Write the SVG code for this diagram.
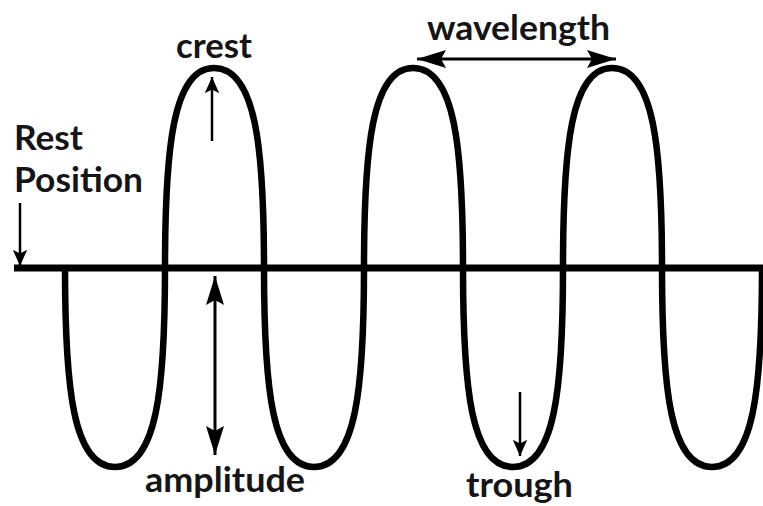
<svg xmlns="http://www.w3.org/2000/svg" width="763" height="506" viewBox="0 0 763 506">
<style>
.wave{fill:none;stroke:#000;stroke-width:6.5;stroke-linejoin:round}
.rest{stroke:#000;stroke-width:7}
.arr{stroke:#000;stroke-width:2.5;fill:none}
.arrb{stroke:#000;stroke-width:3;fill:none}
.lbl{font-family:Lato,"Open Sans","Liberation Sans",sans-serif;font-size:34px;font-weight:bold;fill:#151515}
</style>
<defs>
<marker id="head" markerUnits="userSpaceOnUse" viewBox="0 0 20 20" refX="18" refY="10" markerWidth="18" markerHeight="18" orient="auto">
<path d="M0,2 L18,10 L0,18 L4,10 Z" fill="#000"/>
</marker>
<marker id="big" markerUnits="userSpaceOnUse" viewBox="0 0 30 20" refX="29" refY="10" markerWidth="30" markerHeight="20" orient="auto-start-reverse">
<path d="M0,1 L29,10 L0,19 L5,10 Z" fill="#000"/>
</marker>
</defs>
<g id="wave">
<line class="rest" x1="14" y1="268" x2="763" y2="268"/>
<path class="wave" d="M65,268 C65,388 73,467 115,467 C157,467 165,388 165,268
C165,148 173,68 214,68 C256,68 264,148 264,268
C264,388 272,467 314,467 C356,467 364,388 364,268
C364,148 372,68 413,68 C455,68 463,148 463,268
C463,388 471,467 513,467 C555,467 563,388 563,268
C563,148 571,68 612,68 C654,68 662,148 662,268
C662,388 670,467 712,467 C754,467 762,388 762,268"/>
</g>
<g id="connectors">
<line class="arr" x1="20" y1="203" x2="20" y2="266" marker-end="url(#head)"/>
<line class="arr" x1="212" y1="141" x2="212" y2="77" marker-end="url(#head)"/>
<line class="arrb" x1="215" y1="276" x2="215" y2="455" marker-start="url(#big)" marker-end="url(#big)"/>
<line class="arrb" x1="417" y1="59" x2="616" y2="59" marker-start="url(#big)" marker-end="url(#big)"/>
<line class="arr" x1="520" y1="392" x2="520" y2="456" marker-end="url(#head)"/>
</g>
<g id="label-rest"><text class="lbl" x="14" y="150" textLength="69" lengthAdjust="spacingAndGlyphs">Rest</text><text class="lbl" x="14" y="192" textLength="129" lengthAdjust="spacingAndGlyphs">Position</text></g>
<g id="label-crest"><text class="lbl" x="176" y="58" textLength="76" lengthAdjust="spacingAndGlyphs">crest</text></g>
<g id="label-wavelength"><text class="lbl" x="427" y="40" textLength="183" lengthAdjust="spacingAndGlyphs">wavelength</text></g>
<g id="label-amplitude"><text class="lbl" x="145" y="492" textLength="160" lengthAdjust="spacingAndGlyphs">amplitude</text></g>
<g id="label-trough"><text class="lbl" x="466" y="497" textLength="107" lengthAdjust="spacingAndGlyphs">trough</text></g>
</svg>
